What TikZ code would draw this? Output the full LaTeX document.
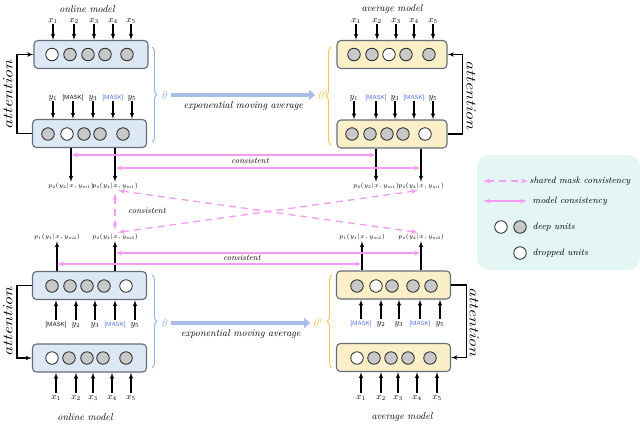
\documentclass[tikz,border=0pt]{standalone}
\usepackage{fix-cm}
\usepackage{color}
\usepackage{tikz}
\usetikzlibrary{shapes,arrows,arrows.meta,calc,decorations.pathreplacing}
\definecolor{onlinefill}{RGB}{221,232,245}
\definecolor{averagefill}{RGB}{251,239,199}
\definecolor{boxedge}{RGB}{100,110,122}
\definecolor{unitgray}{RGB}{200,200,200}
\definecolor{conspink}{RGB}{244,155,244}
\definecolor{maskblue}{RGB}{70,100,235}
\definecolor{thetablue}{RGB}{140,175,230}
\definecolor{thetagold}{RGB}{247,200,75}
\definecolor{emablue}{RGB}{168,190,230}
\definecolor{legendfill}{RGB}{228,246,244}
\newcommand{\masktok}{{\fontsize{6}{7}\selectfont\sffamily [MASK]}}
\newcommand{\masktokb}{{\color{maskblue}\fontsize{6}{7}\selectfont\sffamily [MASK]}}
\tikzstyle{line} = [draw, -latex', line width=1.1pt]
\tikzstyle{cons} = [draw=conspink, latex'-latex', line width=1.3pt]
\tikzstyle{shared} = [cons, dash pattern=on 7pt off 5pt]
\tikzstyle{online} = [draw=boxedge, fill=onlinefill, rectangle, rounded corners=4pt, minimum width=114pt, minimum height=28pt, line width=1.1pt]
\tikzstyle{average} = [online, fill=averagefill]
\tikzstyle{deep} = [draw=black!85, circle, fill=unitgray, minimum size=12.5pt, inner sep=0pt, line width=0.8pt]
\tikzstyle{dropped} = [deep, fill=white]
\tikzstyle{tok} = [inner sep=0.5pt, text height=5.5pt, text depth=1.5pt, font=\fontsize{9}{10}\selectfont]
\tikzstyle{prob} = [inner sep=1pt, font=\fontsize{5.9}{7}\selectfont]
\tikzstyle{caption} = [inner sep=0pt, font=\fontsize{10}{11}\selectfont\itshape]
\tikzstyle{note} = [inner sep=0pt, font=\fontsize{8.5}{9}\selectfont\itshape]
\tikzstyle{legtext} = [inner sep=1.5pt, anchor=west, font=\fontsize{9.3}{10}\selectfont\itshape]
\tikzstyle{attnup} = [inner sep=0pt, rotate=90, xscale=1.3, font=\fontsize{14}{15}\selectfont\itshape]
\tikzstyle{attndown} = [inner sep=0pt, rotate=-90, xscale=1.3, font=\fontsize{14}{15}\selectfont\itshape]
\tikzstyle{brace} = [draw, decorate, decoration={brace, amplitude=5pt}, line width=0.9pt]
\tikzstyle{ema} = [draw=emablue, line width=4pt, -{Triangle[length=6pt,width=10pt]}]
\begin{document}
\begin{tikzpicture}[x=1pt, y=-1pt]
    \useasboundingbox (0,0) rectangle (640,424);
    \node[online] (tl1) at (91,54.5) {};
    \node[online] (tl2) at (89.5,133.5) {};
    \node[average, minimum width=110pt] (tr1) at (392,54.5) {};
    \node[average, minimum width=110pt] (tr2) at (392,134) {};
    \node[online] (bl1) at (89.5,285.5) {};
    \node[online] (bl2) at (89.5,358) {};
    \node[average] (br1) at (393.5,285) {};
    \node[average] (br2) at (393.5,357.5) {};

    \foreach \cx/\kind [count=\i] in {52/dropped,70/deep,88/deep,105/deep,127/deep}
        \node[\kind] (tl1u\i) at (\cx,54.5) {};
    \foreach \cx/\kind [count=\i] in {48/deep,67/dropped,84/deep,100/deep,123/deep}
        \node[\kind] (tl2u\i) at (\cx,134) {};
    \foreach \cx/\kind [count=\i] in {354/deep,372/deep,389/dropped,406/deep,429/deep}
        \node[\kind] (tr1u\i) at (\cx,54.5) {};
    \foreach \cx/\kind [count=\i] in {352/deep,370/deep,387/deep,403/deep,425/dropped}
        \node[\kind] (tr2u\i) at (\cx,134) {};
    \foreach \cx/\kind [count=\i] in {52/deep,70/deep,87/deep,104/deep,126/dropped}
        \node[\kind] (bl1u\i) at (\cx,286) {};
    \foreach \cx/\kind [count=\i] in {52/dropped,69/deep,87/deep,103/deep,126/deep}
        \node[\kind] (bl2u\i) at (\cx,358) {};
    \foreach \cx/\kind [count=\i] in {357/deep,376/dropped,392/deep,413/deep,431/deep}
        \node[\kind] (br1u\i) at (\cx,286) {};
    \foreach \cx/\kind [count=\i] in {357/dropped,374/deep,391/deep,408/deep,430/deep}
        \node[\kind] (br2u\i) at (\cx,358) {};

    \foreach \tx/\lab [count=\i] in {53/$x_1$,74/$x_2$,94/$x_3$,113/$x_4$,131/$x_5$} {
        \node[tok] (tl1x\i) at (\tx,20) {\lab};
        \path[line] (tl1x\i) -- (tl1x\i |- tl1.north);
    }
    \foreach \tx/\lab [count=\i] in {53/$y_1$,73/\masktok,93/$y_3$,113/\masktokb,132/$y_5$} {
        \node[tok] (tl2y\i) at (\tx,97) {\lab};
        \path[line] (tl2y\i) -- (tl2y\i |- tl2.north);
    }
    \foreach \tx/\lab [count=\i] in {356/$x_1$,377/$x_2$,396/$x_3$,414/$x_4$,433/$x_5$} {
        \node[tok] (tr1x\i) at (\tx,20) {\lab};
        \path[line] (tr1x\i) -- (tr1x\i |- tr1.north);
    }
    \foreach \tx/\lab [count=\i] in {354/$y_1$,376/\masktokb,395/$y_3$,414/\masktokb,433/$y_5$} {
        \node[tok] (tr2y\i) at (\tx,97) {\lab};
        \path[line] (tr2y\i) -- (tr2y\i |- tr2.north);
    }
    \foreach \tx/\lab [count=\i] in {56/\masktok,76/$y_2$,95/$y_3$,115/\masktokb,135/$y_5$} {
        \node[tok] (bl1y\i) at (\tx,324) {\lab};
        \path[line] (bl1y\i) -- (bl1y\i |- bl1.south);
    }
    \foreach \tx/\lab [count=\i] in {56/$x_1$,76/$x_2$,93/$x_3$,112/$x_4$,131/$x_5$} {
        \node[tok] (bl2x\i) at (\tx,397) {\lab};
        \path[line] (bl2x\i) -- (bl2x\i |- bl2.south);
    }
    \foreach \tx/\lab [count=\i] in {361/\masktokb,381/$y_2$,399/$y_3$,420/\masktokb,440/$y_5$} {
        \node[tok] (br1y\i) at (\tx,323) {\lab};
        \path[line] (br1y\i) -- (br1y\i |- br1.south);
    }
    \foreach \tx/\lab [count=\i] in {361/$x_1$,381/$x_2$,398/$x_3$,417/$x_4$,437/$x_5$} {
        \node[tok] (br2x\i) at (\tx,397) {\lab};
        \path[line] (br2x\i) -- (br2x\i |- br2.south);
    }

    \node[caption] (oncap1) at (87,9) {online model};
    \node[caption] (avcap1) at (392,9) {average model};
    \node[caption] (oncap2) at (85,417) {online model};
    \node[caption] (avcap2) at (402,417) {average model};

    \path[line] (tl2.west) -- ++(-15,0) |- (tl1.west);
    \path[line] (tr2.east) -- ++(15,0) |- (tr1.east);
    \path[line] (bl1.west) -- ++(-15,0) |- (bl2.west);
    \path[line] (br1.east) -- ++(15,0) |- (br2.east);
    \node[attnup] (attl1) at (8,95) {attention};
    \node[attndown] (attr1) at (471,95) {attention};
    \node[attnup] (attl2) at (8,322) {attention};
    \node[attndown] (attr2) at (474,322) {attention};

    \path[brace, draw=thetablue] (152,47) -- (152,142);
    \path[brace, draw=thetagold] (331,145) -- (331,47);
    \node[text=thetablue, font=\fontsize{12}{12}\selectfont] (th1) at (165,95) {$\theta$};
    \node[text=thetagold, font=\fontsize{12}{12}\selectfont] (thp1) at (323,95) {$\theta'$};
    \path[ema] (th1) -- node[below=5pt, caption] (ema1) {exponential moving average} (thp1);
    \path[brace, draw=thetablue] (152,275) -- (152,368);
    \path[brace, draw=thetagold] (332,368) -- (332,275);
    \node[text=thetablue, font=\fontsize{12}{12}\selectfont] (th2) at (165,323) {$\theta$};
    \node[text=thetagold, font=\fontsize{12}{12}\selectfont] (thp2) at (318,323) {$\theta'$};
    \path[ema] (th2) -- node[below=5pt, caption] (ema2) {exponential moving average} (thp2);

    \node[prob] (tlp2) at (71,186) {$p_2(y_2|x,y_{m1})$};
    \node[prob] (tlp4) at (115,186) {$p_4(y_4|x,y_{m1})$};
    \node[prob] (trp2) at (376,186) {$p_2(y_2|x,y_{m1})$};
    \node[prob] (trp4) at (421,186) {$p_4(y_4|x,y_{m1})$};
    \node[prob] (blp1) at (57,237) {$p_1(y_1|x,y_{m2})$};
    \node[prob] (blp4) at (115,237) {$p_4(y_4|x,y_{m2})$};
    \node[prob] (brp1) at (362,237) {$p_1(y_1|x,y_{m2})$};
    \node[prob] (brp4) at (421,237) {$p_4(y_4|x,y_{m2})$};
    \path[line] (tlp2 |- tl2.south) -- (tlp2);
    \path[line] (tlp4 |- tl2.south) -- (tlp4);
    \path[line] (trp2 |- tr2.south) -- (trp2);
    \path[line] (trp4 |- tr2.south) -- (trp4);
    \path[line] (blp1 |- bl1.north) -- (blp1);
    \path[line] (blp4 |- bl1.north) -- (blp4);
    \path[line] (brp1 |- br1.north) -- (brp1);
    \path[line] (brp4 |- br1.north) -- (brp4);

    \path[cons] (tlp2 |- 0,155) -- (trp2 |- 0,155);
    \path[cons] (tlp4 |- 0,168) -- (trp4 |- 0,168);
    \node[note] (cons1) at (250,161) {consistent};
    \path[cons] (blp4 |- 0,253) -- (brp4 |- 0,253);
    \path[cons] (blp1 |- 0,264) -- (brp1 |- 0,264);
    \node[note] (cons3) at (242,258) {consistent};
    \path[shared, shorten <=3pt, shorten >=3pt] (tlp4.south) -- (blp4.north);
    \path[shared, shorten <=3pt, shorten >=3pt] (tlp4.south) -- (brp4.north);
    \path[shared, shorten <=3pt, shorten >=3pt] (blp4.north) -- (trp4.south);
    \node[note] (cons2) at (147,211) {consistent};

    \node[fill=legendfill, rounded corners=12pt, minimum width=163pt, minimum height=115pt] (legend) at (558.5,212.5) {};
    \coordinate (lgs) at (483,181);
    \node[legtext] (lgst) at (528,181) {shared mask consistency};
    \path[shared] (lgs) -- (lgst.west);
    \coordinate (lgm) at (483,201);
    \node[legtext] (lgmt) at (531,201) {model consistency};
    \path[cons, shorten >=4pt] (lgm) -- (lgmt.west);
    \node[dropped] (lgu1) at (501,227) {};
    \node[deep] (lgu2) at (520,227) {};
    \node[legtext] (lgut) at (531,227) {deep units};
    \node[dropped] (lgu3) at (520,253) {};
    \node[legtext] (lgdt) at (531,253) {dropped units};
\end{tikzpicture}
\end{document}
